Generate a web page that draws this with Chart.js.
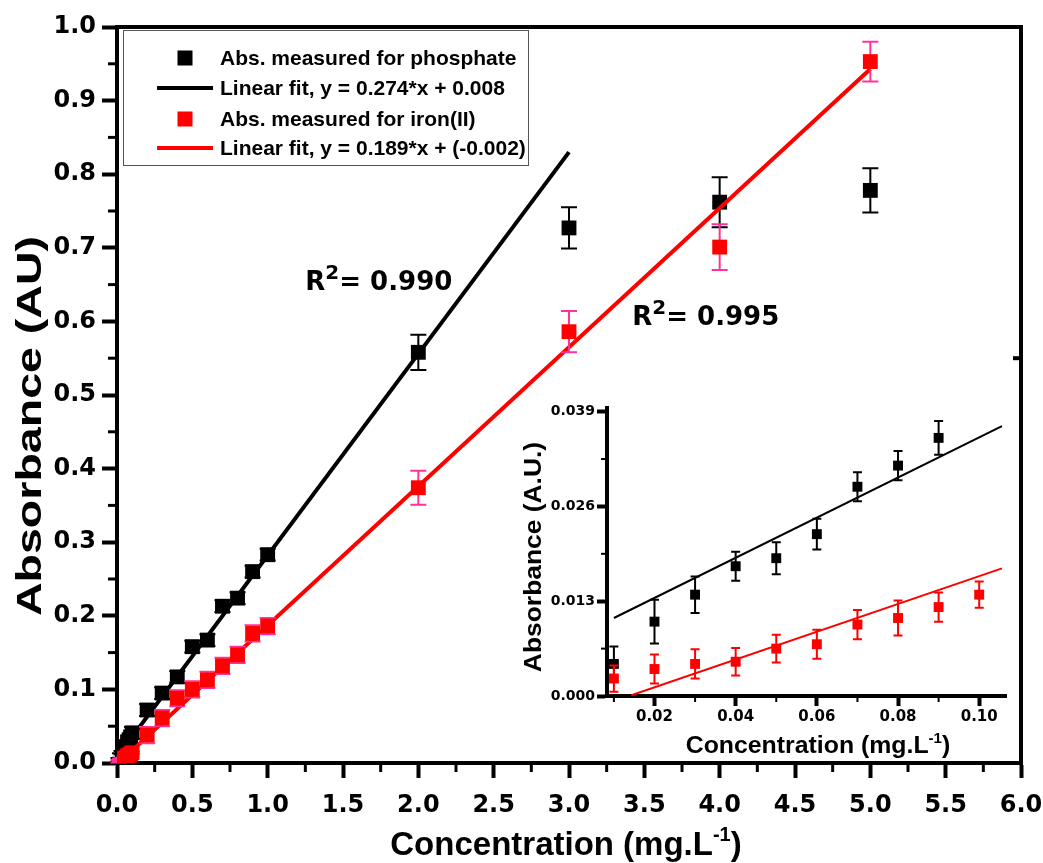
<!DOCTYPE html>
<html>
<head>
<meta charset="utf-8">
<script src="https://cdn.jsdelivr.net/npm/chart.js@4.4.1/dist/chart.umd.min.js"></script>
<style>
  body { margin: 0; background: #fff; }
  #wrap { position: relative; width: 1043px; height: 863px; }
  #mainChart { position: absolute; left: 0; top: 0; }
  #insetChart { position: absolute; left: 510px; top: 395px; }
</style>
</head>
<body>
<div id="wrap">
  <canvas id="mainChart" width="1043" height="863"></canvas>
  <canvas id="insetChart" width="525" height="375"></canvas>
</div>
<script>
// low range (shown in the inset and near the origin of the main plot)
const lowPhosConc = [0.01, 0.02, 0.03, 0.04, 0.05, 0.06, 0.07, 0.08, 0.09];
const lowPhosAbs = [0.0044, 0.0102, 0.0139, 0.0178, 0.0189, 0.0222, 0.0287, 0.0316, 0.0354];
const lowPhosErr = [0.0024, 0.0030, 0.0025, 0.0020, 0.0022, 0.0021, 0.0020, 0.0020, 0.0023];

const lowIronConc = [0.01, 0.02, 0.03, 0.04, 0.05, 0.06, 0.07, 0.08, 0.09, 0.10];
const lowIronAbs = [0.0024, 0.0037, 0.0044, 0.0047, 0.0065, 0.0071, 0.0098, 0.0107, 0.0122, 0.0139];
const lowIronErr = [0.0018, 0.0020, 0.0020, 0.0019, 0.0019, 0.0020, 0.0020, 0.0024, 0.0020, 0.0018];

// high range
const highPhosConc = [0.1, 0.2, 0.3, 0.4, 0.5, 0.6, 0.7, 0.8, 0.9, 1.0, 2.0, 3.0, 4.0, 5.0];
const highPhosAbs = [0.041, 0.072, 0.095, 0.117, 0.158, 0.167, 0.213, 0.224, 0.260, 0.283, 0.558, 0.727, 0.762, 0.778];
const highPhosErr = [0.008, 0.008, 0.008, 0.008, 0.008, 0.008, 0.008, 0.008, 0.008, 0.008, 0.024, 0.028, 0.034, 0.030];

const highIronConc = [0.2, 0.3, 0.4, 0.5, 0.6, 0.7, 0.8, 0.9, 1.0, 2.0, 3.0, 4.0, 5.0];
const highIronAbs = [0.038, 0.061, 0.088, 0.100, 0.113, 0.132, 0.147, 0.176, 0.186, 0.374, 0.586, 0.701, 0.953];
const highIronErr = [0.011, 0.011, 0.011, 0.011, 0.011, 0.011, 0.011, 0.011, 0.011, 0.023, 0.028, 0.031, 0.027];

// fit lines (end points)
const phosFitX = [0, 3.0];
const phosFitY = [0.008, 0.830];
const ironFitX = [0, 5.0];
const ironFitY = [-0.002, 0.943];
const insetPhosFitX = [0.0100, 0.1056];
const insetPhosFitY = [0.0107, 0.0370];
const insetIronFitX = [0.0143, 0.1056];
const insetIronFitY = [0.0001, 0.0175];

const legendLabels = [
    "Abs. measured for phosphate",
    "Linear fit, y = 0.274*x + 0.008",
    "Abs. measured for iron(II)",
    "Linear fit, y = 0.189*x + (-0.002)"
];
const mainXTicks = [0, 6, 0.5];
const mainYTicks = [0, 1, 0.1];
const insetXTicks = [0.0083, 0.1066, 0.02];
const insetYTicks = [0, 0.0395, 0.013];

const BLACK = "#000000";
const RED = "#ff0000";
const PINK = "#ff3399";
const TICK_FONT = "'DejaVu Sans'";
const TEXT_FONT = "'Liberation Sans'";

function toPoints(xs, ys) {
    return xs.map((x, i) => ({ x: x, y: ys[i] }));
}

function drawParts(ctx, parts, x, y, size, family, angle, stretch, align, supScale) {
    supScale = supScale || 0.62;
    ctx.save();
    ctx.translate(x, y);
    ctx.rotate(angle);
    ctx.scale(stretch, 1);
    const fontFor = (p) => "bold " + (p.sup ? Math.round(size * supScale) : size) + "px " + family;
    let total = 0;
    parts.forEach((p) => {
        ctx.font = fontFor(p);
        total += ctx.measureText(p.t).width;
    });
    let cx = align === "left" ? 0 : -total / 2;
    ctx.fillStyle = BLACK;
    ctx.textAlign = "left";
    ctx.textBaseline = "alphabetic";
    parts.forEach((p) => {
        ctx.font = fontFor(p);
        ctx.fillText(p.t, cx, p.sup ? -size * 0.42 : 0);
        cx += ctx.measureText(p.t).width;
    });
    ctx.restore();
}

// error bars drawn just under each point dataset
const errorBars = {
    id: "errorBars",
    beforeDatasetDraw(chart, args) {
        const ds = chart.data.datasets[args.index];
        if (!ds.errors) return;
        const ctx = chart.ctx;
        const xs = chart.scales.x;
        const ys = chart.scales.y;
        ctx.save();
        ctx.strokeStyle = ds.errorColor;
        ctx.lineWidth = ds.errorWidth;
        ds.data.forEach((pt, i) => {
            const px = xs.getPixelForValue(pt.x);
            const top = ys.getPixelForValue(pt.y + ds.errors[i]);
            const bot = ys.getPixelForValue(pt.y - ds.errors[i]);
            const c = ds.capWidth / 2;
            ctx.beginPath();
            ctx.moveTo(px, top); ctx.lineTo(px, bot);
            ctx.moveTo(px - c, top); ctx.lineTo(px + c, top);
            ctx.moveTo(px - c, bot); ctx.lineTo(px + c, bot);
            ctx.stroke();
        });
        ctx.restore();
    }
};

const minorTicks = {
    id: "minorTicks",
    afterDraw(chart, args, opts) {
        const ctx = chart.ctx;
        const area = chart.chartArea;
        ctx.save();
        ctx.strokeStyle = BLACK;
        ctx.lineWidth = opts.width;
        opts.x.forEach((v) => {
            const px = chart.scales.x.getPixelForValue(v);
            ctx.beginPath();
            ctx.moveTo(px, area.bottom);
            ctx.lineTo(px, area.bottom + opts.len);
            ctx.stroke();
        });
        opts.y.forEach((v) => {
            const py = chart.scales.y.getPixelForValue(v);
            ctx.beginPath();
            ctx.moveTo(area.left, py);
            ctx.lineTo(area.left - opts.len, py);
            ctx.stroke();
        });
        ctx.restore();
    }
};

const mainDecor = {
    id: "mainDecor",
    afterDraw(chart) {
        const ctx = chart.ctx;
        const area = chart.chartArea;
        const xs = chart.scales.x;
        const ys = chart.scales.y;
        ctx.save();
        // top and right frame
        ctx.strokeStyle = BLACK;
        ctx.lineWidth = 4;
        ctx.lineCap = "square";
        ctx.beginPath();
        ctx.moveTo(area.left, area.top);
        ctx.lineTo(area.right, area.top);
        ctx.lineTo(area.right, area.bottom);
        ctx.stroke();
        // lone tick on right axis
        ctx.lineCap = "butt";
        const ry = ys.getPixelForValue(0.55);
        ctx.beginPath();
        ctx.moveTo(area.right, ry);
        ctx.lineTo(area.right - 8, ry);
        ctx.stroke();

        // legend
        const lx = 123, ly = 30, lw = 405, lh = 135;
        ctx.fillStyle = "#fff";
        ctx.fillRect(lx, ly, lw, lh);
        ctx.strokeStyle = "#555";
        ctx.lineWidth = 1;
        ctx.strokeRect(lx + 0.5, ly + 0.5, lw, lh);
        const rows = [58, 88, 119, 148];
        const kinds = [["rect", BLACK], ["line", BLACK], ["rect", RED], ["line", RED]];
        kinds.forEach((k, i) => {
            ctx.fillStyle = k[1];
            ctx.strokeStyle = k[1];
            if (k[0] === "rect") {
                ctx.fillRect(185 - 7.5, rows[i] - 7.5, 15, 15);
            } else {
                ctx.lineWidth = 4;
                ctx.beginPath();
                ctx.moveTo(157, rows[i]);
                ctx.lineTo(213, rows[i]);
                ctx.stroke();
            }
            ctx.fillStyle = BLACK;
            ctx.font = "bold 21px " + TEXT_FONT;
            ctx.textBaseline = "middle";
            ctx.textAlign = "left";
            ctx.fillText(legendLabels[i], 220, rows[i] + 1);
        });
        ctx.restore();

        // R^2 annotations
        drawParts(ctx, [{ t: "R" }, { t: "2", sup: true }, { t: "= 0.990" }],
            xs.getPixelForValue(1.25), ys.getPixelForValue(0.643), 26, TICK_FONT, 0, 1, "left", 0.78);
        drawParts(ctx, [{ t: "R" }, { t: "2", sup: true }, { t: "= 0.995" }],
            xs.getPixelForValue(3.42), ys.getPixelForValue(0.595), 26, TICK_FONT, 0, 1, "left", 0.78);

        // axis titles
        drawParts(ctx, [{ t: "Concentration (mg.L" }, { t: "-1", sup: true }, { t: ")" }],
            566, 855, 33, TEXT_FONT, 0, 1, "center");
        drawParts(ctx, [{ t: "Absorbance (AU)" }], 41, 426, 35, TEXT_FONT, -Math.PI / 2, 1.33, "center");
    }
};

const insetDecor = {
    id: "insetDecor",
    afterDraw(chart) {
        const ctx = chart.ctx;
        drawParts(ctx, [{ t: "Concentration (mg.L" }, { t: "-1", sup: true }, { t: ")" }],
            308, 358, 23, TEXT_FONT, 0, 1.08, "center");
        drawParts(ctx, [{ t: "Absorbance (A.U.)" }], 31, 162, 24, TEXT_FONT, -Math.PI / 2, 1.1, "center");
    }
};

function axisX(min, max, step, digits, fontSize, tickLen, pad, height) {
    return {
        type: "linear", min: min, max: max,
        afterFit: (s) => { s.height = height; s.paddingLeft = 0; s.paddingRight = 0; },
        border: { color: BLACK, width: 4 },
        grid: { drawOnChartArea: false, tickLength: tickLen, tickWidth: 4, tickColor: BLACK },
        ticks: {
            stepSize: step, includeBounds: false, autoSkip: false, maxRotation: 0,
            color: BLACK, padding: pad,
            font: { family: TICK_FONT, weight: "bold", size: fontSize },
            callback: (v) => Number(v).toFixed(digits)
        }
    };
}

function axisY(min, max, step, digits, fontSize, tickLen, pad, width) {
    return {
        type: "linear", min: min, max: max,
        afterFit: (s) => { s.width = width; s.paddingTop = 0; s.paddingBottom = 0; },
        border: { color: BLACK, width: 4 },
        grid: { drawOnChartArea: false, tickLength: tickLen, tickWidth: 4, tickColor: BLACK },
        ticks: {
            stepSize: step, includeBounds: false, autoSkip: false,
            color: BLACK, padding: pad,
            font: { family: TICK_FONT, weight: "bold", size: fontSize },
            callback: (v) => Number(v).toFixed(digits)
        }
    };
}

new Chart(document.getElementById("mainChart").getContext("2d"), {
    type: "scatter",
    data: {
        datasets: [
            {
                data: toPoints(lowIronConc.concat(highIronConc), lowIronAbs.concat(highIronAbs)),
                errors: lowIronErr.concat(highIronErr), errorColor: PINK, errorWidth: 2, capWidth: 16,
                pointStyle: "rect", pointRadius: 10.5, backgroundColor: RED, borderWidth: 0, order: 1
            },
            {
                data: toPoints(ironFitX, ironFitY), showLine: true, pointRadius: 0,
                borderColor: RED, borderWidth: 4, order: 2
            },
            {
                data: toPoints(lowPhosConc.concat(highPhosConc), lowPhosAbs.concat(highPhosAbs)),
                errors: lowPhosErr.concat(highPhosErr), errorColor: BLACK, errorWidth: 2, capWidth: 16,
                pointStyle: "rect", pointRadius: 10.5, backgroundColor: BLACK, borderWidth: 0, order: 3
            },
            {
                data: toPoints(phosFitX, phosFitY), showLine: true, pointRadius: 0,
                borderColor: BLACK, borderWidth: 4, order: 4
            }
        ]
    },
    options: {
        responsive: false,
        animation: false,
        layout: { padding: { top: 27, right: 22, left: 0, bottom: 0 } },
        plugins: {
            legend: { display: false },
            tooltip: { enabled: false },
            minorTicks: { len: 9, width: 3, x: [0.25, 0.75, 1.25, 1.75, 2.25, 2.75, 3.25, 3.75, 4.25, 4.75, 5.25, 5.75],
                y: [0.05, 0.15, 0.25, 0.35, 0.45, 0.55, 0.65, 0.75, 0.85, 0.95] }
        },
        scales: {
            x: axisX(mainXTicks[0], mainXTicks[1], mainXTicks[2], 1, 24, 15, 13, 100),
            y: axisY(mainYTicks[0], mainYTicks[1], mainYTicks[2], 1, 24, 15, 6, 117)
        }
    },
    plugins: [errorBars, minorTicks, mainDecor]
});

new Chart(document.getElementById("insetChart").getContext("2d"), {
    type: "scatter",
    data: {
        datasets: [
            {
                data: toPoints(lowIronConc, lowIronAbs),
                errors: lowIronErr, errorColor: RED, errorWidth: 2, capWidth: 9,
                pointStyle: "rect", pointRadius: 7, backgroundColor: RED, borderWidth: 0, order: 1
            },
            {
                data: toPoints(insetIronFitX, insetIronFitY), showLine: true, pointRadius: 0,
                borderColor: RED, borderWidth: 2, order: 2
            },
            {
                data: toPoints(lowPhosConc, lowPhosAbs),
                errors: lowPhosErr, errorColor: BLACK, errorWidth: 2, capWidth: 9,
                pointStyle: "rect", pointRadius: 7, backgroundColor: BLACK, borderWidth: 0, order: 3
            },
            {
                data: toPoints(insetPhosFitX, insetPhosFitY), showLine: true, pointRadius: 0,
                borderColor: BLACK, borderWidth: 2, order: 4
            }
        ]
    },
    options: {
        responsive: false,
        animation: false,
        layout: { padding: { top: 13, right: 29, left: 0, bottom: 0 } },
        plugins: {
            legend: { display: false },
            tooltip: { enabled: false },
            minorTicks: { len: 6, width: 2, x: [0.01, 0.03, 0.05, 0.07, 0.09], y: [0.0065, 0.0195, 0.0325] }
        },
        scales: {
            x: axisX(insetXTicks[0], insetXTicks[1], insetXTicks[2], 2, 15, 10, 2, 74),
            y: axisY(insetYTicks[0], insetYTicks[1], insetYTicks[2], 3, 14, 10, 2, 97)
        }
    },
    plugins: [errorBars, minorTicks, insetDecor]
});
</script>
</body>
</html>
